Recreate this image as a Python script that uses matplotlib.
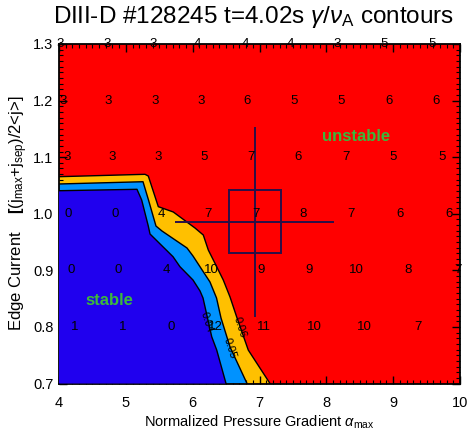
import matplotlib
matplotlib.use('Agg')
import matplotlib.pyplot as plt
from matplotlib.patches import Rectangle
from matplotlib.ticker import MultipleLocator

# ---------------- data ----------------
alpha_range = [4.0, 10.0]
current_range = [0.7, 1.3]

row_current = [1.3, 1.2, 1.1, 1.0, 0.9, 0.8]
row_alpha = [
    [4.015, 4.718, 5.407, 6.065, 6.783, 7.456, 8.160, 8.863, 9.581],
    [4.060, 4.733, 5.436, 6.125, 6.813, 7.516, 8.220, 8.938, 9.641],
    [4.120, 4.793, 5.481, 6.170, 6.873, 7.576, 8.294, 8.998, 9.731],
    [4.135, 4.838, 5.526, 6.229, 6.948, 7.651, 8.369, 9.102, 9.836],
    [4.180, 4.883, 5.601, 6.274, 7.022, 7.741, 8.444, 9.222, 9.970],
    [4.239, 4.958, 5.676, 6.334, 7.067, 7.816, 8.564, 9.372],
]
row_growth = [
    [3, 3, 3, 4, 4, 4, 3, 5, 5],
    [3, 3, 3, 3, 6, 5, 5, 6, 6],
    [3, 3, 3, 5, 7, 6, 7, 5, 5],
    [0, 0, 4, 7, 7, 8, 7, 6, 6],
    [0, 0, 4, 10, 9, 9, 10, 8, 7],
    [1, 1, 0, 12, 11, 10, 10, 7],
]

# contour 0.06 (yellow / red)
c06_alpha = [4.0, 5.287, 5.336, 5.486, 5.710, 6.035, 6.159, 6.234, 6.334, 6.458, 6.559, 6.659, 6.832, 7.157]
c06_current = [1.0655, 1.0697, 1.0667, 1.0125, 1.0031, 0.9748, 0.9624, 0.9359, 0.9124, 0.8829, 0.8529, 0.8175, 0.7591, 0.70]
# contour 0.05 (light blue / yellow)
c05_alpha = [4.0, 5.257, 5.339, 5.451, 5.541, 5.915, 6.005, 6.259, 6.357, 6.424, 6.559, 6.813]
c05_current = [1.0526, 1.0566, 1.0243, 0.9783, 0.9695, 0.9395, 0.9253, 0.8794, 0.8511, 0.8158, 0.7645, 0.70]
# contour 0.04 (blue / light blue)
c04_alpha = [4.0, 5.167, 5.237, 5.336, 5.362, 5.706, 5.810, 6.005, 6.110, 6.155, 6.285, 6.360, 6.499]
c04_current = [1.0407, 1.0432, 1.0243, 0.9783, 0.9642, 0.9241, 0.9064, 0.8829, 0.8635, 0.8511, 0.7827, 0.7591, 0.70]

contour_levels = ['0.04', '0.05', '0.06']
label_alpha = [6.215, 6.559, 6.708]
label_current = [0.808, 0.763, 0.800]

exp_alpha, exp_current = 6.93, 0.986
exp_alpha_err, exp_current_err = 1.19, 0.168
box_alpha_half, box_current_half = 0.39, 0.056

# ---------------- styles ----------------
RED = '#FF0000'
YELLOW = '#FFC000'
LBLUE = '#0092FF'
BLUE = '#2000EE'
GREEN = '#3CB83C'
NAVY = '#2A1048'

plt.rcParams['font.family'] = ['Liberation Sans', 'DejaVu Sans']
plt.rcParams['mathtext.fontset'] = 'custom'
plt.rcParams['mathtext.rm'] = 'Liberation Sans'
plt.rcParams['mathtext.it'] = 'Liberation Sans:italic'
plt.rcParams['mathtext.bf'] = 'Liberation Sans:bold'

fig = plt.figure(figsize=(4.67, 4.30), dpi=100)
ax = fig.add_axes([59/467, 1-383.5/430, 401/467, 339.5/430])
ax.set_facecolor(RED)
ax.set_xlim(alpha_range)
ax.set_ylim(current_range)

x0, y0 = alpha_range[0], current_range[0]
ax.fill(c06_alpha + [x0], c06_current + [y0], color=YELLOW, lw=0, zorder=1)
ax.fill(c05_alpha + [x0], c05_current + [y0], color=LBLUE, lw=0, zorder=2)
ax.fill(c04_alpha + [x0], c04_current + [y0], color=BLUE, lw=0, zorder=3)
for xa, ya in [(c06_alpha, c06_current), (c05_alpha, c05_current), (c04_alpha, c04_current)]:
    ax.plot(xa, ya, color='black', lw=1.0, zorder=4)

for lev, la, lc in zip(contour_levels, label_alpha, label_current):
    ax.text(la, lc, lev, fontsize=8, rotation=-72, ha='center', va='center',
            rotation_mode='anchor', zorder=6)

for yc, xs, vals in zip(row_current, row_alpha, row_growth):
    for xv, v in zip(xs, vals):
        ax.text(xv, yc, str(v), fontsize=9.5, ha='center', va='center', zorder=6, clip_on=False)

ax.errorbar([exp_alpha], [exp_current], xerr=[exp_alpha_err], yerr=[exp_current_err],
            fmt='none', ecolor=NAVY, elinewidth=1.4, capsize=0, zorder=5)
ax.add_patch(Rectangle((exp_alpha - box_alpha_half, exp_current - box_current_half),
                       2*box_alpha_half, 2*box_current_half, fill=False,
                       edgecolor=NAVY, lw=1.4, zorder=5))

ax.text(8.45, 1.137, 'unstable', color=GREEN, fontsize=12, fontweight='bold',
        ha='center', va='center', zorder=6)
ax.text(4.76, 0.847, 'stable', color=GREEN, fontsize=12, fontweight='bold',
        ha='center', va='center', zorder=6)

ax.xaxis.set_major_locator(MultipleLocator(1))
ax.xaxis.set_minor_locator(MultipleLocator(0.1))
ax.yaxis.set_major_locator(MultipleLocator(0.1))
ax.yaxis.set_minor_locator(MultipleLocator(0.01))
ax.tick_params(which='both', direction='in', top=True, right=True, color='black')
ax.tick_params(which='major', length=6, width=1.0, labelsize=10.5)
ax.tick_params(which='minor', length=3, width=0.8)
ax.tick_params(axis='x', pad=9)
ax.tick_params(axis='y', pad=4)
ax.yaxis.set_major_formatter(matplotlib.ticker.FormatStrFormatter('%.1f'))
for s in ax.spines.values():
    s.set_linewidth(1.3)

ax.set_xlabel(r'Normalized Pressure Gradient $\alpha_{\mathrm{max}}$', fontsize=10.5)
ax.xaxis.set_label_coords(0.5, -0.113)
ax.xaxis.label.set_va('center')
ax.set_ylabel(r'Edge Current    $\mathbf{[}$(j$_{\mathrm{max}}$+j$_{\mathrm{sep}}$)/2<j>]', fontsize=12)
ax.yaxis.set_label_coords(-0.10, 0.5)
ax.yaxis.label.set_va('center')

fig.text(254/467, 1-16.7/430, r'DIII-D #128245 t=4.02s $\gamma/\nu_{\mathrm{A}}$ contours',
         fontsize=17.5, ha='center', va='center')

fig.savefig('out.png', dpi=100)
